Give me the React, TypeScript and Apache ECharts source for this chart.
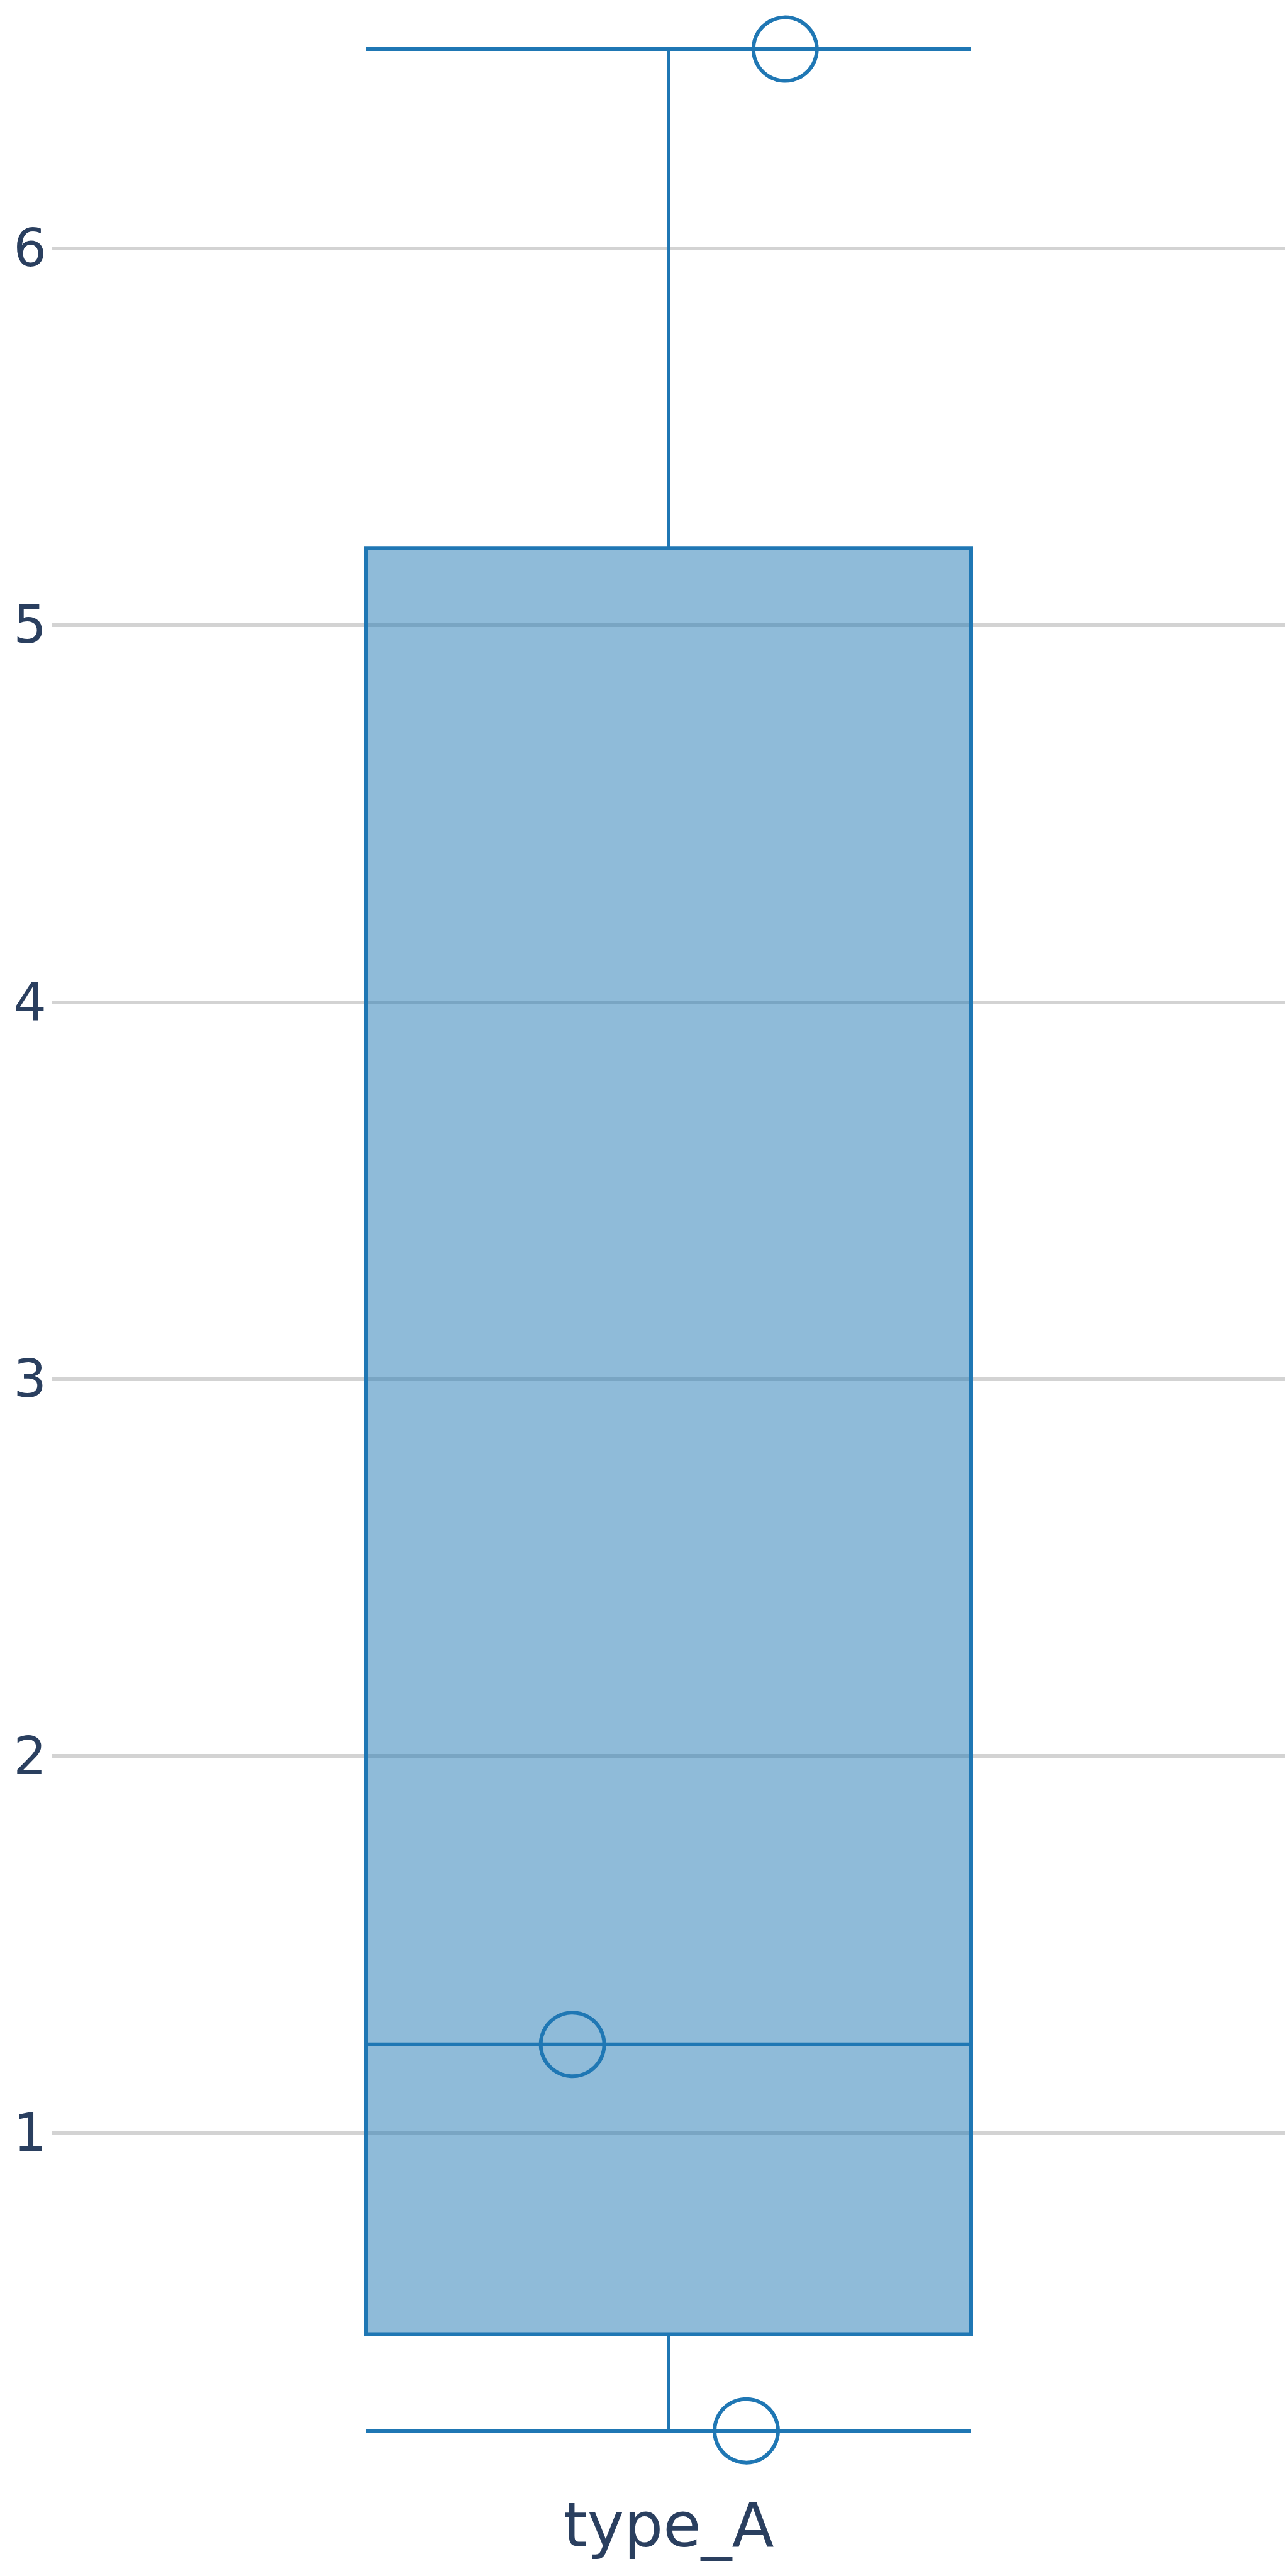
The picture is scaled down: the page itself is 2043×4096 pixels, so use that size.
import React, { useEffect, useRef } from "react";
import * as echarts from "echarts";

// ---- data ----
const categories = ["type_A"];
const pointValues = [0.21, 1.235, 6.528];
// horizontal jitter of each point, in category-width units (matches pointValues order)
const pointJitter = [0.063, -0.078, 0.0945];
const yTickValues = [1, 2, 3, 4, 5, 6];

// axis range
const yMin = 0.0851;
const yMax = 6.6583;

const LINE = "#1f77b4";
const FONT = "#2a3f5f";

function quantile(sorted: number[], p: number) {
  const n = sorted.length;
  const idx = p * n - 0.5;
  if (idx <= 0) return sorted[0];
  if (idx >= n - 1) return sorted[n - 1];
  const i = Math.floor(idx);
  const f = idx - i;
  return sorted[i] + f * (sorted[i + 1] - sorted[i]);
}

function boxStats(vals: number[]) {
  const s = [...vals].sort((a, b) => a - b);
  const q1 = quantile(s, 0.25);
  const med = quantile(s, 0.5);
  const q3 = quantile(s, 0.75);
  return [s[0], q1, med, q3, s[s.length - 1]];
}

export default function App() {
  const ref = useRef<HTMLDivElement>(null);
  useEffect(() => {
    if (!ref.current) return;
    const chart = echarts.init(ref.current, undefined, { renderer: "svg" });
    chart.setOption({
      animation: false,
      backgroundColor: "#ffffff",
      grid: { left: 83, top: 0, width: 1965, height: 3940, containLabel: false },
      xAxis: [
        {
          type: "category",
          data: categories,
          axisLine: { show: false },
          axisTick: { show: false },
          splitLine: { show: false },
          axisLabel: {
            color: FONT,
            fontSize: 98,
            fontFamily: "DejaVu Sans",
            margin: 26,
          },
        },
        {
          type: "value",
          min: -0.5,
          max: 0.5,
          show: false,
          splitLine: { show: false },
        },
      ],
      yAxis: {
        type: "value",
        min: yMin,
        max: yMax,
        minInterval: 1,
        maxInterval: 1,
        axisLine: { show: false },
        axisTick: { show: false },
        axisLabel: {
          color: FONT,
          fontSize: 83,
          fontFamily: "DejaVu Sans",
          margin: 9,
          showMinLabel: false,
          showMaxLabel: false,
          formatter: (v: number) => (yTickValues.includes(v) ? String(v) : ""),
        },
        splitLine: {
          show: true,
          showMinLine: false,
          showMaxLine: false,
          lineStyle: { color: "#d3d3d3", width: 6 },
        },
      },
      series: [
        {
          type: "boxplot",
          xAxisIndex: 0,
          data: [boxStats(pointValues)],
          boxWidth: [962, 962],
          itemStyle: {
            color: "rgba(31,119,180,0.5)",
            borderColor: LINE,
            borderWidth: 6,
          },
        },
        {
          type: "scatter",
          xAxisIndex: 1,
          data: pointValues.map((v, i) => [pointJitter[i], v]),
          symbol: "circle",
          symbolSize: 101,
          itemStyle: {
            color: "rgba(0,0,0,0)",
            borderColor: LINE,
            borderWidth: 6,
            opacity: 1,
          },
          z: 5,
        },
      ],
    });
    return () => chart.dispose();
  }, []);
  return (
    <div
      ref={ref}
      style={{ position: "absolute", left: 0, top: 0, width: 2043, height: 4096, background: "#fff" }}
    />
  );
}
